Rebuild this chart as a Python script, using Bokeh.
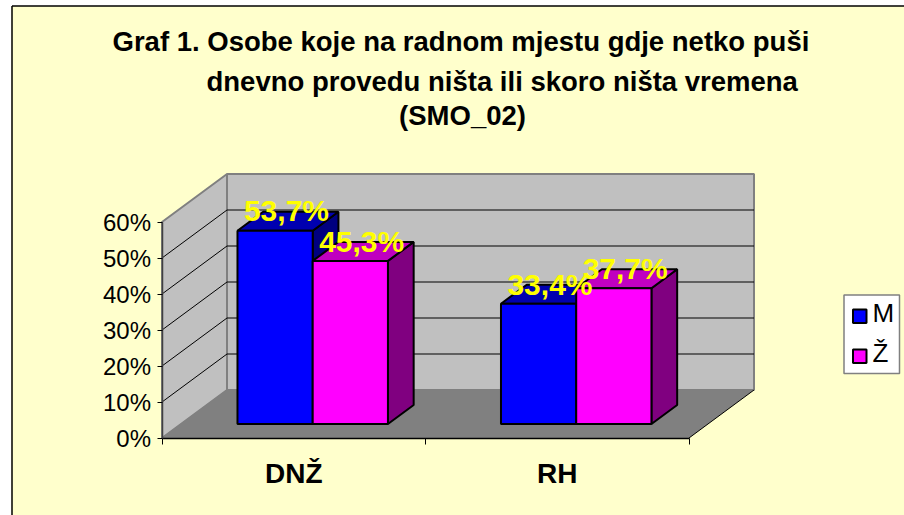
from bokeh.plotting import figure
from bokeh.embed import file_html
from bokeh.resources import INLINE
from bokeh.models import Range1d, FixedTicker, PrintfTickFormatter, LinearAxis
from bokeh.core.properties import value

title_lines = ["Graf 1. Osobe koje na radnom mjestu gdje netko puši",
               "dnevno provedu ništa ili skoro ništa vremena",
               "(SMO_02)"]
categories = ["DNŽ", "RH"]
series_names = ["M", "Ž"]
m_values = [53.7, 33.4]
z_values = [45.3, 37.7]
m_labels = ["53,7%", "33,4%"]
z_labels = ["45,3%", "37,7%"]
y_ticks = [0, 10, 20, 30, 40, 50, 60]

FONT = "Liberation Sans"
PX_X0, PX_Y0, PX_W, PX_H = 0, 0, 904, 515
AX_L, AX_R, AX_B, AX_T = 161.5, 688.5, 437.5, 221.5
UX = (AX_R - AX_L) / len(categories)
UY = (AX_B - AX_T) / 60.0
DX_W, DY_W = 65 / UX, 48 / UY          # full wall depth in data units
X = lambda px: (px - AX_L) / UX
Y = lambda py: (AX_B - py) / UY

p = figure(width=PX_W, height=PX_H, output_backend="svg", toolbar_location=None,
           x_range=Range1d(X(PX_X0), X(PX_X0 + PX_W)),
           y_range=Range1d(Y(PX_Y0 + PX_H), Y(PX_Y0)),
           min_border=0, outline_line_color=None, background_fill_color="white",
           border_fill_color="white")
p.grid.visible = False
p.xaxis.visible = False
p.yaxis.visible = False

# page background and frame
far = 5
p.quad(left=X(11), right=X(PX_X0 + PX_W + far), bottom=Y(PX_Y0 + PX_H + far), top=Y(5.5),
       fill_color="#FFFFCC", line_color=None)
p.line([X(11.5), X(11.5)], [Y(PX_Y0 + PX_H + far), Y(5.5)], line_color="black", line_width=1.5)
p.line([X(11.5), X(PX_X0 + PX_W + far)], [Y(5.5), Y(5.5)], line_color="black", line_width=1.5)

n = len(categories)
top_v = y_ticks[-1]
# floor, walls
p.patch([0, n, n + DX_W, DX_W], [0, 0, DY_W, DY_W], fill_color="#808080", line_color=None)
p.patch([0, DX_W, DX_W, 0], [0, DY_W, DY_W + top_v, top_v], fill_color="#C0C0C0",
        line_color="#808080", line_width=2)
p.patch([DX_W, n + DX_W, n + DX_W, DX_W], [DY_W, DY_W, DY_W + top_v, DY_W + top_v],
        fill_color="#C0C0C0", line_color="#808080", line_width=2)
p.line([0, DX_W], [0, DY_W], line_color="#808080", line_width=1)
p.line([n, n + DX_W], [0, DY_W], line_color="black", line_width=1)
for t in y_ticks[1:-1]:
    p.line([0, DX_W, n + DX_W], [t, t + DY_W, t + DY_W], line_color="black", line_width=1)

# bars
D0, D1 = 14 / 48, 33 / 48
GAP = 0.2145
BW = (1 - 2 * GAP) / 2
def bar_face(i, s, v):
    x0 = i + GAP + s * BW + D0 * DX_W
    x1 = x0 + BW
    y0 = D0 * DY_W
    dx, dy = (D1 - D0) * DX_W, (D1 - D0) * DY_W
    return x0, x1, y0, dx, dy

styles = [("#0000FF", "#0000B0", "#000080"), ("#FF00FF", "#C000C0", "#800080")]
for s, vals in enumerate([m_values, z_values]):
    front_col, top_col, side_col = styles[s]
    for i, v in enumerate(vals):
        x0, x1, y0, dx, dy = bar_face(i, s, v)
        p.patch([x1, x1 + dx, x1 + dx, x1], [y0, y0 + dy, y0 + dy + v, y0 + v],
                fill_color=side_col, line_color="black", line_width=2)
        p.patch([x0, x1, x1 + dx, x0 + dx], [y0 + v, y0 + v, y0 + dy + v, y0 + dy + v],
                fill_color=top_col, line_color="black", line_width=2)
for s, vals in enumerate([m_values, z_values]):
    front_col, top_col, side_col = styles[s]
    for i, v in enumerate(vals):
        x0, x1, y0, dx, dy = bar_face(i, s, v)
        p.quad(left=x0, right=x1, bottom=y0, top=y0 + v,
               fill_color=front_col, line_color="black", line_width=2)

# data labels
for s, (vals, labs) in enumerate([(m_values, m_labels), (z_values, z_labels)]):
    for i, v in enumerate(vals):
        x0, x1, y0, dx, dy = bar_face(i, s, v)
        p.text([(x0 + x1) / 2 + dx / 2 - 1.5 / UX], [y0 + v + dy + 0.2], text=[labs[i]], text_color="#FFFF00",
               text_font=value(FONT), text_font_style="bold", text_font_size="30px",
               text_align="center", text_baseline="middle")

# axes
ya = LinearAxis(ticker=FixedTicker(ticks=y_ticks), formatter=PrintfTickFormatter(format="%d%%"),
                fixed_location=0, bounds=(0, top_v), axis_line_color="#404040", axis_line_width=1.5,
                major_tick_line_color="black", major_tick_out=5, major_tick_in=0, minor_tick_out=0, minor_tick_in=0,
                major_label_text_font=FONT, major_label_text_font_size="24px",
                major_label_text_color="black", major_label_standoff=6)
p.add_layout(ya, "left")
xa = LinearAxis(ticker=FixedTicker(ticks=list(range(n + 1))), fixed_location=0, bounds=(0, n),
                major_label_overrides={i: "" for i in range(n + 1)}, axis_line_color="black",
                axis_line_width=1.5, major_tick_line_color="black", major_tick_out=6, major_tick_in=0,
                minor_tick_out=0, minor_tick_in=0)
p.add_layout(xa, "below")

for i, c in enumerate(categories):
    p.text([i + 0.5], [Y(473)], text=[c], text_color="black", text_font=value(FONT),
           text_font_style="bold", text_font_size="28px", text_align="center", text_baseline="middle")

# title
def title(px, py, s, align):
    p.text([X(px)], [Y(py)], text=[s], text_color="black", text_font=value(FONT), text_font_style="bold",
           text_font_size="27.5px", text_align=align, text_baseline="middle")
title(112, 41, title_lines[0], "left")
title(206, 81, title_lines[1], "left")
title(462, 115, title_lines[2], "center")

# legend
p.quad(left=X(843.5), right=X(899), bottom=Y(373), top=Y(294.5), fill_color="white",
       line_color="#808080", line_width=1.5)
for k, name in enumerate(series_names):
    p.quad(left=X(852.5), right=X(866), bottom=Y(322.5 + 40 * k), top=Y(309 + 40 * k),
           fill_color=styles[k][0], line_color="black", line_width=2)
    p.text([X(872)], [Y(312 + 40 * k)], text=[name], text_color="black", text_font=value(FONT),
           text_font_size="26px", text_align="left", text_baseline="middle")

open("out.html", "w").write(file_html(p, INLINE))
